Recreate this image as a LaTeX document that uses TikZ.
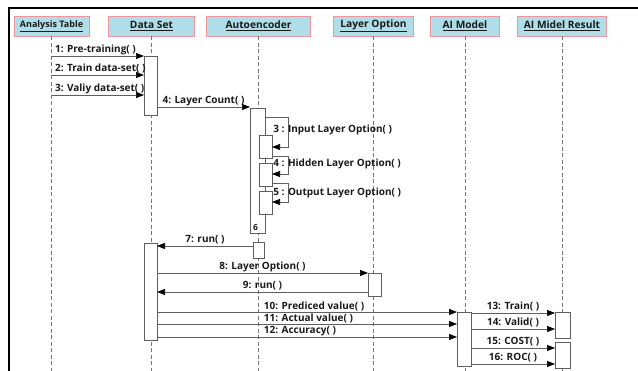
\documentclass[tikz,border=0pt]{standalone}
\usepackage{fontspec}
\setmainfont{Open Sans}
\usetikzlibrary{arrows.meta,calc}
\definecolor{hdrfill}{RGB}{176,222,232}
\definecolor{hdrline}{RGB}{240,150,160}
\definecolor{linegray}{RGB}{95,95,95}
\definecolor{txt}{RGB}{25,25,25}

\begin{document}
\begin{tikzpicture}[x=1pt,y=-1pt,
  header/.style={draw=hdrline,fill=hdrfill,line width=0.8pt,minimum height=20pt,inner sep=0pt,text=txt,font=\fontsize{10.2}{12}\selectfont\bfseries},
  act/.style={draw=linegray,fill=white,line width=0.7pt,minimum width=13pt,inner sep=0pt,outer sep=0pt},
  lifeline/.style={draw=linegray!85,dash pattern=on 4pt off 2.5pt,line width=0.7pt},
  msg/.style={draw=linegray,line width=0.7pt,-{Triangle[length=8pt,width=6pt,color=black]}},
  lbl/.style={font=\fontsize{10}{12}\selectfont\bfseries,text=txt,inner sep=1.2pt}]
\useasboundingbox (0,0) rectangle (638,371);
\draw[line width=2pt] (9,371) -- (9,8) -- (638,8);
\node[header,minimum width=75pt,font=\fontsize{9}{11}\selectfont\bfseries] (AT) at (51.5,26) {\underline{Analysis Table}};
\node[header,minimum width=86pt] (DS) at (151.5,26) {\underline{Data Set}};
\node[header,minimum width=104pt] (AE) at (258.5,26) {\underline{Autoencoder}};
\node[header,minimum width=80pt] (LO) at (373.5,26) {\underline{Layer Option}};
\node[header,minimum width=69pt] (AM) at (465,26) {\underline{AI Model}};
\node[header,minimum width=89pt] (AR) at (562,26) {\underline{AI Midel Result}};
\foreach \n in {AT,DS,AE,LO,AM,AR}
  \draw[lifeline] (\n.south) -- (\n.south|-0,371);
% activations
\node[act,minimum height=59pt] (ds1) at (150.5,85.5) {};
\node[act,minimum width=15pt,minimum height=125pt] (ae1) at (257.5,170.5) {};
\node[act,minimum height=23pt] (sb3) at (265.5,146.5) {};
\node[act,minimum height=23pt] (sb4) at (265.5,174.5) {};
\node[act,minimum height=23pt] (sb5) at (265.5,202.5) {};
\node[act,minimum width=11pt,minimum height=16pt] (ae2) at (258.5,250) {};
\node[act,minimum height=97pt] (ds2) at (150.5,291.5) {};
\node[act,minimum height=23pt] (lo1) at (374.5,284.5) {};
\node[act,minimum width=14pt,minimum height=54pt] (am1) at (464,339) {};
\node[act,minimum width=15pt,minimum height=26pt] (ar1) at (562.5,325) {};
\node[act,minimum width=15pt,minimum height=26pt] (ar2) at (562.5,355) {};
% messages
\draw[msg] (AT.south|-0,56) -- node[lbl,anchor=south west,pos=0,xshift=2pt]{1: Pre-training( )} (ds1.west|-0,56);
\draw[msg] (AT.south|-0,75) -- node[lbl,anchor=south west,pos=0,xshift=2pt]{2: Train data-set( )} (ds1.west|-0,75);
\draw[msg] (AT.south|-0,95) -- node[lbl,anchor=south west,pos=0,xshift=2pt]{3: Valiy data-set( )} (ds1.west|-0,95);
\draw[msg] (ds1.east|-0,107) -- node[lbl,above]{4: Layer Count( )} (ae1.west|-0,107);
\draw[msg] (ae1.east|-0,117) -| (288,147) -- (sb3.east|-0,147);
\draw[msg] (sb3.east|-0,156) -| (288,174) -- (sb4.east|-0,174);
\draw[msg] (sb4.east|-0,183) -| (288,202) -- (sb5.east|-0,202);
\node[lbl,anchor=west] (l3) at (272,130) {3 : Input Layer Option( )};
\node[lbl,anchor=west] (l4) at (272,164) {4 : Hidden Layer Option( )};
\node[lbl,anchor=west] (l5) at (272,193) {5 : Output Layer Option( )};
\node[lbl,font=\fontsize{8.5}{10}\selectfont\bfseries] (l6) at (255.5,227) {6};
\draw[msg] (ae2.west|-0,246) -- node[lbl,above]{7: run( )} (ds2.east|-0,246);
\draw[msg] (ds2.east|-0,273) -- node[lbl,above]{8: Layer Option( )} (lo1.west|-0,273);
\draw[msg] (lo1.west|-0,292) -- node[lbl,above]{9: run( )} (ds2.east|-0,292);
\draw[msg] (ds2.east|-0,312) -- (am1.west|-0,312);
\draw[msg] (ds2.east|-0,324) -- (am1.west|-0,324);
\draw[msg] (ds2.east|-0,337) -- (am1.west|-0,337);
\node[lbl,anchor=south west] (l10) at ($(AE.south|-0,312)+(4,0)$) {10: Prediced value( )};
\node[lbl,anchor=south west] (l11) at ($(AE.south|-0,324)+(4,0)$) {11: Actual value( )};
\node[lbl,anchor=south west] (l12) at ($(AE.south|-0,337)+(4,0)$) {12: Accuracy( )};
\draw[msg] (am1.east|-0,313) -- node[lbl,above]{13: Train( )} (ar1.west|-0,313);
\draw[msg] (am1.east|-0,329) -- node[lbl,above]{14: Valid( )} (ar1.west|-0,329);
\draw[msg] (am1.east|-0,348) -- node[lbl,above]{15: COST( )} (ar2.west|-0,348);
\draw[msg] (am1.east|-0,364) -- node[lbl,above]{16: ROC( )} (ar2.west|-0,364);
\end{tikzpicture}
\end{document}
